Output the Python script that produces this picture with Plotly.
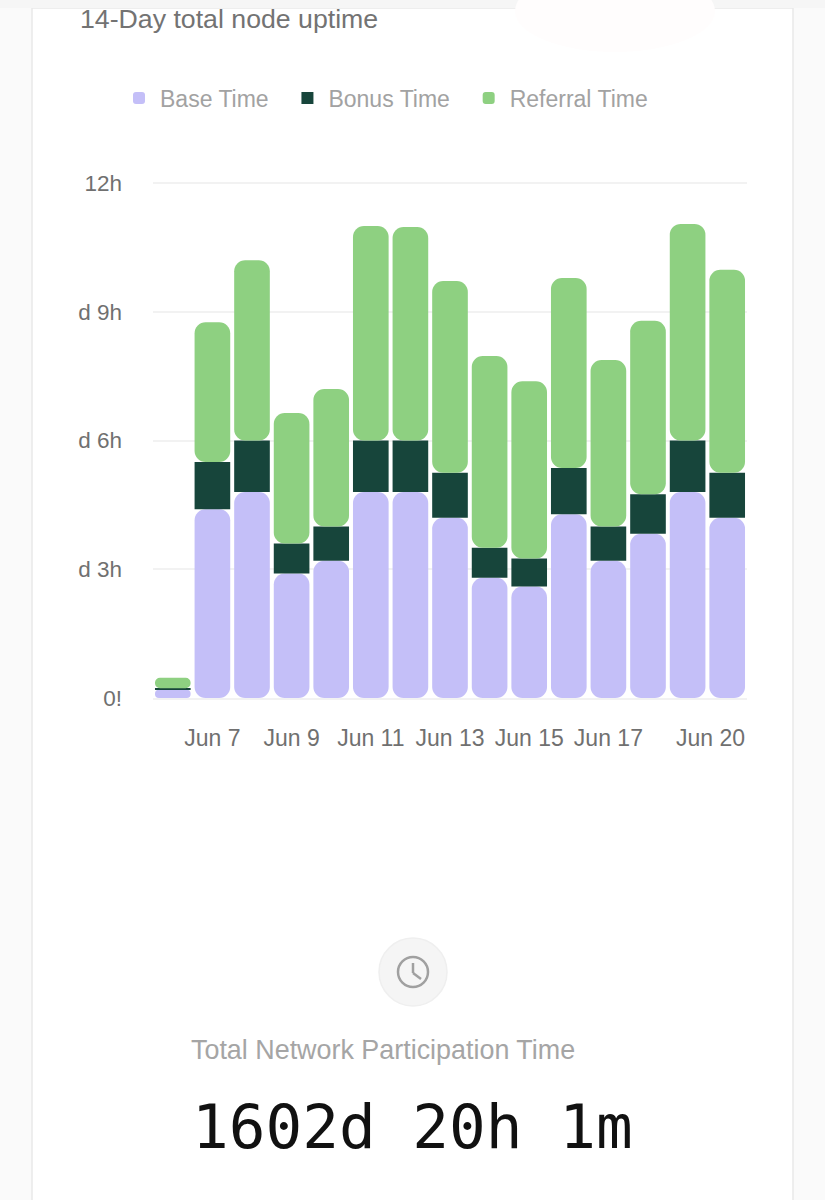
import plotly.graph_objects as go

days = ["Jun 6", "Jun 7", "Jun 8", "Jun 9", "Jun 10", "Jun 11", "Jun 12", "Jun 13",
        "Jun 14", "Jun 15", "Jun 16", "Jun 17", "Jun 18", "Jun 19", "Jun 20"]
base_time = [0.19, 4.4, 4.8, 2.9, 3.2, 4.8, 4.8, 4.2, 2.8, 2.6, 4.28, 3.2, 3.83, 4.8, 4.2]
bonus_time = [0.04, 1.1, 1.2, 0.7, 0.8, 1.2, 1.2, 1.05, 0.7, 0.65, 1.08, 0.8, 0.92, 1.2, 1.05]
referral_time = [0.24, 3.26, 4.2, 3.04, 3.2, 5.0, 4.98, 4.47, 4.47, 4.13, 4.43, 3.88, 4.04, 5.05, 4.73]

x_ticks = ["Jun 7", "Jun 9", "Jun 11", "Jun 13", "Jun 15", "Jun 17"]
y_ticks = [0, 3, 6, 9, 12]
y_labels = ["0!", "d 3h", "d 6h", "d 9h", "12h"]

WIDTH, HEIGHT = 825, 1200
# top sits a little above the 12h line, plotly drops gridlines right on the plot edge
LEFT, RIGHT, TOP, BOTTOM = 153, 747, 181, 698
FONT = "Liberation Sans"
# legend has no setting for the gap between entries
LEGEND_PAD = "\u00a0\u00a0"


def px(x):
    return (x - LEFT) / (RIGHT - LEFT)


def py(y):
    return (BOTTOM - y) / (BOTTOM - TOP)


def rect(x0, y0, x1, y1, fill, line=None, kind="rect"):
    return dict(type=kind, xref="paper", yref="paper", layer="below",
                x0=px(x0), x1=px(x1), y0=py(y0), y1=py(y1), fillcolor=fill,
                line=dict(color=line or fill, width=1.5 if line else 0))


def stroke(x0, y0, x1, y1, color="#a0a0a0", width=2.5, kind="line"):
    return dict(type=kind, xref="paper", yref="paper", layer="above",
                x0=px(x0), x1=px(x1), y0=py(y0), y1=py(y1),
                line=dict(color=color, width=width))


fig = go.Figure()

# negative bars hanging from the top of the base segment, so the round end sits on zero
fig.add_trace(go.Bar(
    x=days, y=[-v for v in base_time], base=base_time,
    name="Base Time" + LEGEND_PAD,
    marker=dict(color="#c4bff8", cornerradius=11, line_width=0),
))
fig.add_trace(go.Bar(
    x=days, y=bonus_time, base=base_time,
    name="Bonus Time" + LEGEND_PAD,
    marker=dict(color="#17453b", line_width=0),
))
fig.add_trace(go.Bar(
    x=days, y=referral_time,
    base=[b + c for b, c in zip(base_time, bonus_time)],
    name="Referral Time",
    marker=dict(color="#8ed081", cornerradius=11, line_width=0),
))

shapes = [
    # page and card behind the chart
    rect(32, 8, 793, 1210, "#ffffff", "#e9e9e9"),
    rect(0, 0, 825, 8, "#f6f6f6"),
    rect(515, -30, 715, 52, "#fffdfd", kind="circle"),
    # clock badge
    rect(379, 938, 447, 1006, "#f5f5f5", "#efefef", kind="circle"),
    stroke(398, 957, 428, 987, kind="circle"),
    stroke(413, 963, 413, 973),
    stroke(413, 973, 421, 979),
]

fig.update_layout(
    width=WIDTH,
    height=HEIGHT,
    margin=dict(l=LEFT, r=WIDTH - RIGHT, t=TOP, b=HEIGHT - BOTTOM, autoexpand=False),
    paper_bgcolor="#fafafa",
    plot_bgcolor="rgba(0,0,0,0)",
    barmode="overlay",
    bargap=0.1,
    font=dict(family=FONT, color="#707070"),
    title=dict(
        text="14-Day total node uptime", font=dict(size=26.7, color="#737373"),
        xref="container", yref="container", x=80 / WIDTH, xanchor="left",
        y=1 - 19 / HEIGHT, yanchor="middle",
    ),
    legend=dict(
        orientation="h", x=px(118), xanchor="left", y=py(98), yanchor="middle",
        font=dict(size=23, color="#a2a2a2"), itemwidth=32, traceorder="normal",
        bgcolor="rgba(0,0,0,0)",
    ),
    xaxis=dict(
        type="category", categoryorder="array", categoryarray=days,
        tickmode="array", tickvals=x_ticks, ticktext=x_ticks,
        ticks="", ticklabelstandoff=18, tickangle=0,
        tickfont=dict(size=23, color="#707070"),
        showgrid=False, zeroline=False, showline=True, linecolor="#f2f2f2", linewidth=2,
    ),
    yaxis=dict(
        range=[0, 12.05], tickmode="array", tickvals=y_ticks, ticktext=y_labels,
        ticks="", ticklabelstandoff=30,
        tickfont=dict(size=22.5, color="#707070"),
        showgrid=True, gridcolor="#f2f2f2", gridwidth=2, zeroline=False,
    ),
    shapes=shapes,
    annotations=[
        # last label is pushed inside the plot edge
        dict(text="Jun 20", xref="paper", yref="paper", x=1, y=py(738),
             xanchor="right", yanchor="middle", showarrow=False,
             font=dict(size=23, color="#707070")),
        dict(text="Total Network Participation Time", xref="paper", yref="paper",
             x=px(383), y=py(1050), xanchor="center", yanchor="middle", showarrow=False,
             font=dict(size=26.9, color="#a5a5a5")),
        dict(text="1602d 20h 1m", xref="paper", yref="paper",
             x=px(412), y=py(1126), xanchor="center", yanchor="middle", showarrow=False,
             font=dict(size=61, color="#111111", family="DejaVu Sans Mono")),
    ],
)

fig.write_html(
    "out.html",
    config=dict(displayModeBar=False),
    post_script="document.body.style.margin='0';document.body.style.overflow='hidden';",
)
